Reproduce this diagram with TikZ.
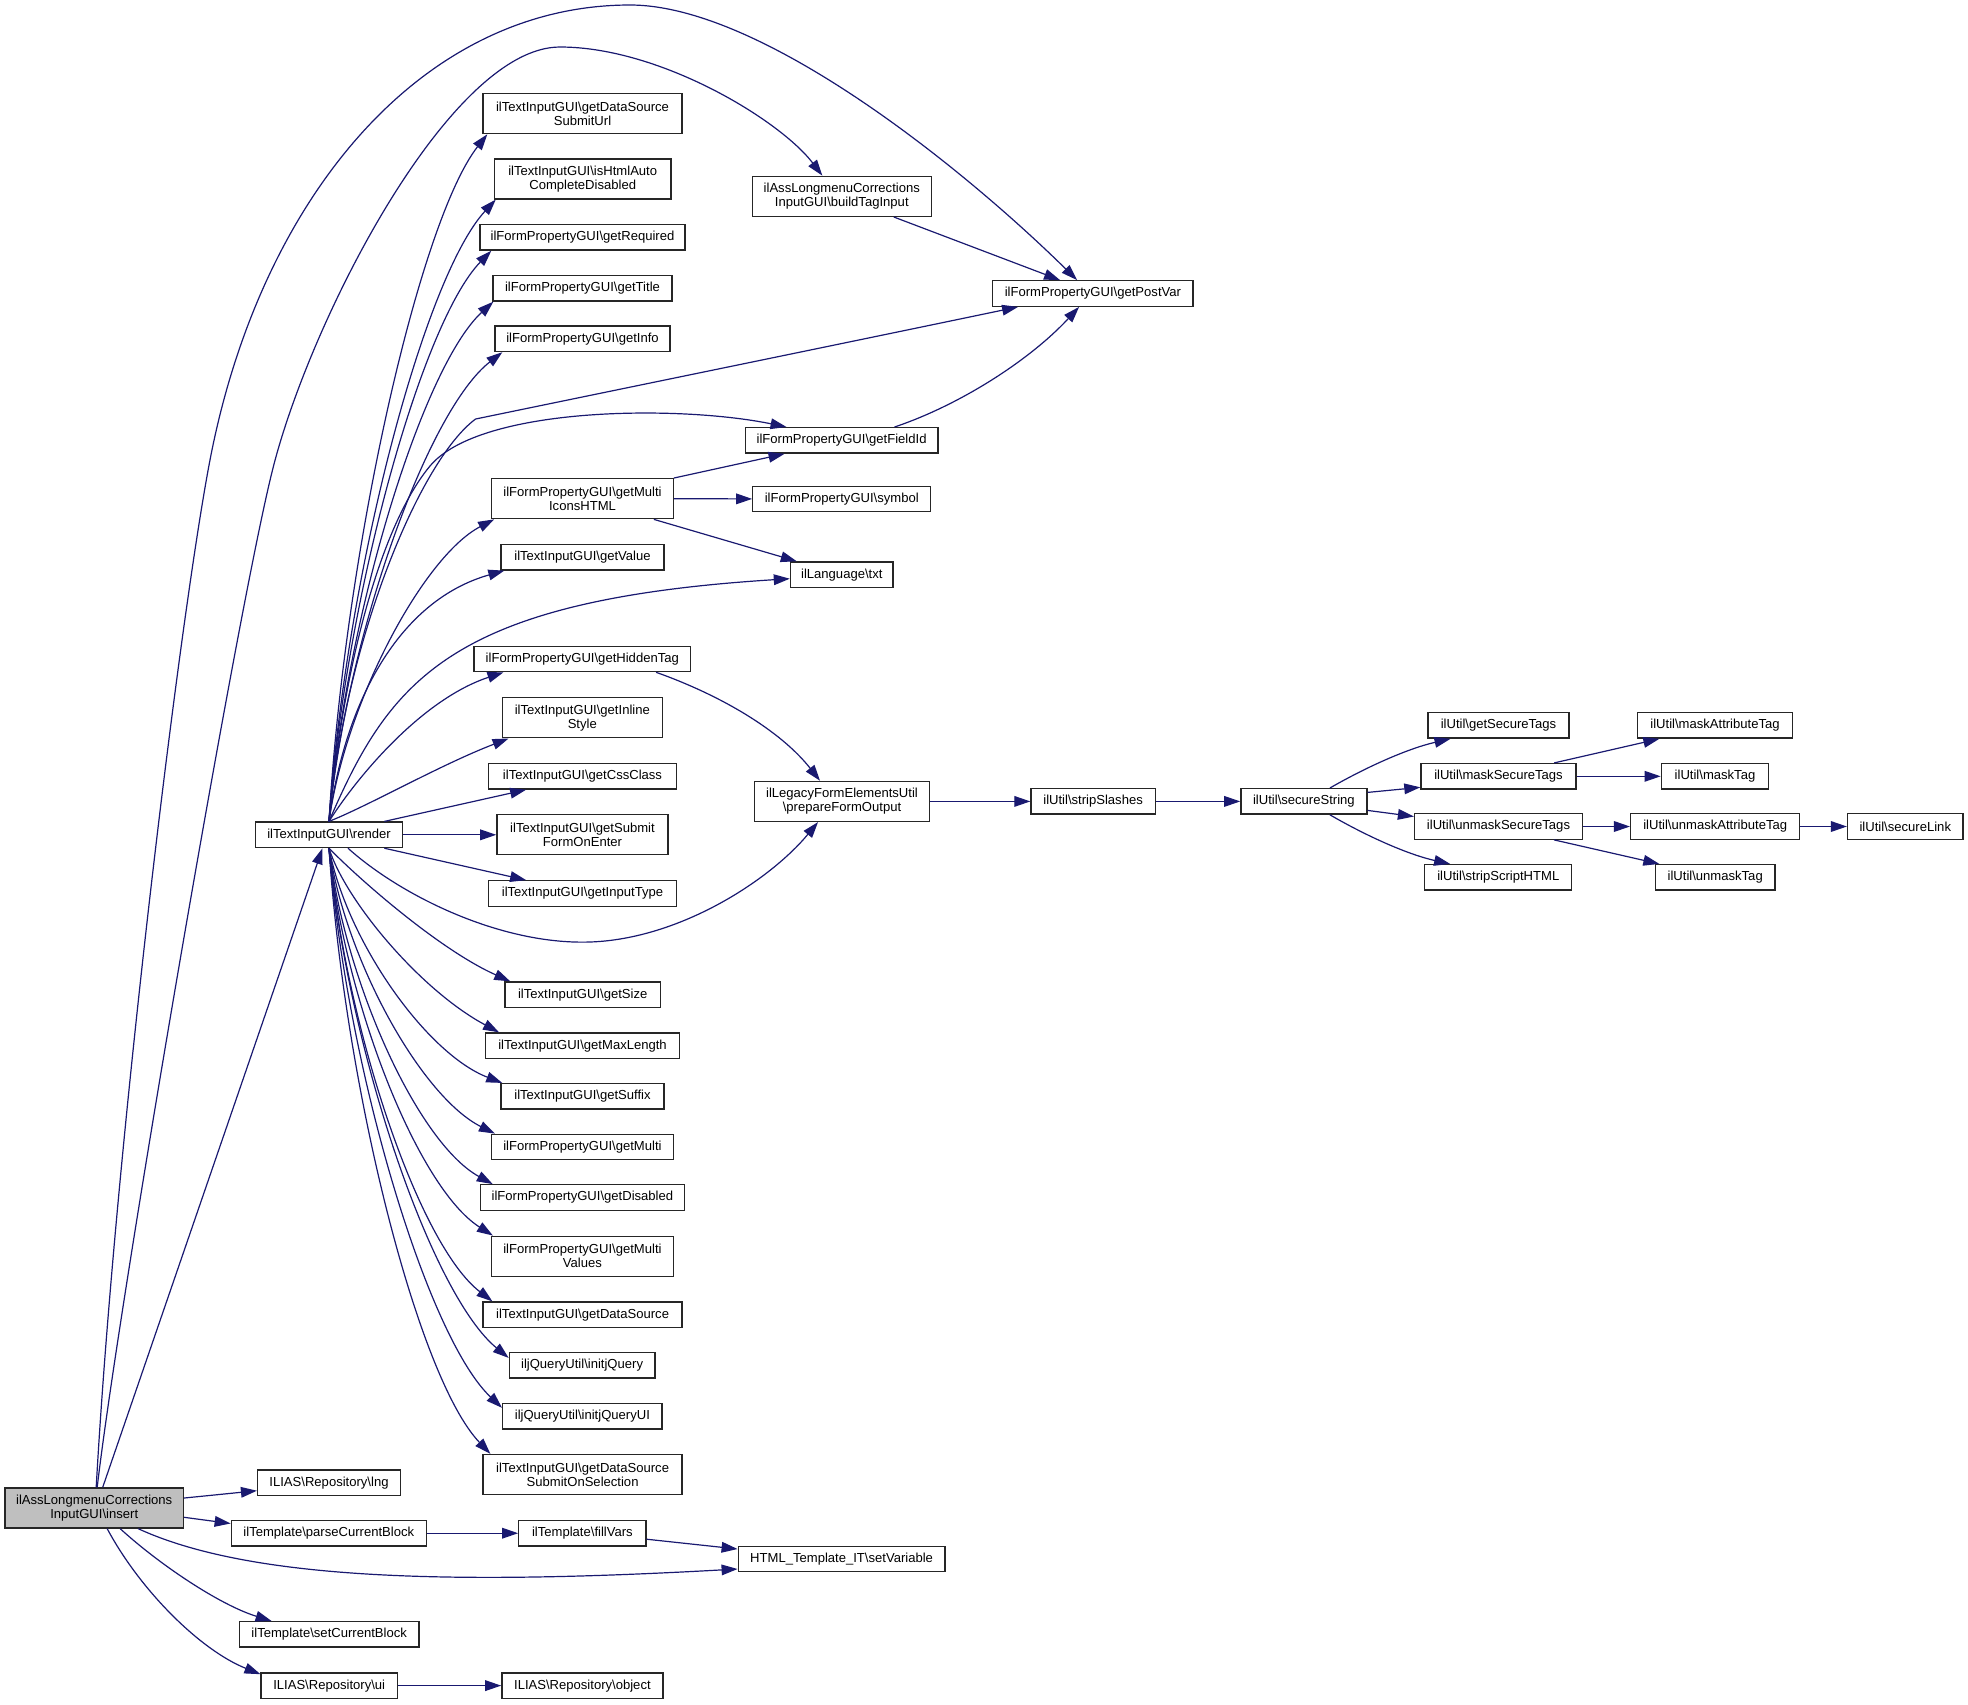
\documentclass[tikz,border=0pt]{standalone}
\usepackage{fontspec}
\setmainfont{Liberation Sans}
\usetikzlibrary{arrows.meta,calc}
\definecolor{edgec}{HTML}{191970}
\definecolor{insfill}{HTML}{BFBFBF}
\newcommand{\BS}{\textbackslash}
\begin{document}
\begin{tikzpicture}[x=0.75pt,y=-0.75pt,
  nb/.style={draw=black!85, line width=1pt, fill=white, rectangle, inner xsep=2pt, inner ysep=1pt, align=center, font=\fontsize{9.8pt}{10.4pt}\selectfont, minimum height=19.1pt},
  two/.style={minimum height=30pt},
  bw/.style={minimum width=#1*0.75pt},
  ed/.style={draw=edgec, line width=0.9pt, -{Triangle[length=12pt,width=8pt]}}
]
\useasboundingbox (0,0) rectangle (1968,1704);

% nodes
\node[nb,bw=178.6,two,fill=insfill] (ins) at (94.2,1508) {ilAssLongmenuCorrections\\InputGUI\BS insert};
\node[nb,bw=147.3] (render) at (329,834.8) {ilTextInputGUI\BS render};
\node[nb,bw=199,two] (surl) at (582.5,113.6) {ilTextInputGUI\BS getDataSource\\SubmitUrl};
\node[nb,bw=176.5,two] (html) at (582.7,178.9) {ilTextInputGUI\BS isHtmlAuto\\CompleteDisabled};
\node[nb,bw=205] (req) at (582.5,237.3) {ilFormPropertyGUI\BS getRequired};
\node[nb,bw=179] (title) at (582.5,288.3) {ilFormPropertyGUI\BS getTitle};
\node[nb,bw=175] (info) at (582.5,338.8) {ilFormPropertyGUI\BS getInfo};
\node[nb,bw=181.4,two] (micons) at (582.5,498.7) {ilFormPropertyGUI\BS getMulti\\IconsHTML};
\node[nb,bw=163] (value) at (582.5,557.2) {ilTextInputGUI\BS getValue};
\node[nb,bw=216.3] (hidden) at (582.3,658.9) {ilFormPropertyGUI\BS getHiddenTag};
\node[nb,bw=160.1,two] (inline) at (582.3,717.8) {ilTextInputGUI\BS getInline\\Style};
\node[nb,bw=187.4] (css) at (582.5,776.3) {ilTextInputGUI\BS getCssClass};
\node[nb,bw=171.2,two] (submit) at (582.5,834.8) {ilTextInputGUI\BS getSubmit\\FormOnEnter};
\node[nb,bw=187.4] (itype) at (582.5,893.5) {ilTextInputGUI\BS getInputType};
\node[nb,bw=155.6] (size) at (582.7,994.7) {ilTextInputGUI\BS getSize};
\node[nb,bw=193.6] (maxlen) at (582.5,1045.7) {ilTextInputGUI\BS getMaxLength};
\node[nb,bw=163.2] (suffix) at (582.5,1096.3) {ilTextInputGUI\BS getSuffix};
\node[nb,bw=181.7] (multi) at (582.4,1147) {ilFormPropertyGUI\BS getMulti};
\node[nb,bw=204] (disabled) at (582.4,1197.5) {ilFormPropertyGUI\BS getDisabled};
\node[nb,bw=181.7,two] (mvalues) at (582.4,1256.2) {ilFormPropertyGUI\BS getMulti\\Values};
\node[nb,bw=199.1] (dsrc) at (582.6,1314.7) {ilTextInputGUI\BS getDataSource};
\node[nb,bw=145.5] (jq) at (582.1,1365.3) {iljQueryUtil\BS initjQuery};
\node[nb,bw=159.4] (jqui) at (582.4,1416.2) {iljQueryUtil\BS initjQueryUI};
\node[nb,bw=199.1,two] (sosel) at (582.6,1474.5) {ilTextInputGUI\BS getDataSource\\SubmitOnSelection};
\node[nb,bw=142.8] (lng) at (329,1482.7) {ILIAS\BS Repository\BS lng};
\node[nb,bw=195] (pcb) at (328.8,1533.2) {ilTemplate\BS parseCurrentBlock};
\node[nb,bw=179.9] (scb) at (329.2,1634.4) {ilTemplate\BS setCurrentBlock};
\node[nb,bw=136.1] (ui) at (329.2,1685.6) {ILIAS\BS Repository\BS ui};
\node[nb,bw=127.2] (fillv) at (582.4,1533.2) {ilTemplate\BS fillVars};
\node[nb,bw=161.1] (object) at (582.4,1685.6) {ILIAS\BS Repository\BS object};
\node[nb,bw=206.7] (setvar) at (841.6,1559) {HTML\_Template\_IT\BS setVariable};
\node[nb,bw=178.8,two] (btag) at (841.8,196.3) {ilAssLongmenuCorrections\\InputGUI\BS buildTagInput};
\node[nb,bw=200.3] (postvar) at (1092.9,293.5) {ilFormPropertyGUI\BS getPostVar};
\node[nb,bw=192.8] (fieldid) at (841.6,440.4) {ilFormPropertyGUI\BS getFieldId};
\node[nb,bw=178] (symbol) at (841.8,498.9) {ilFormPropertyGUI\BS symbol};
\node[nb,bw=102.7] (txt) at (841.8,574.7) {ilLanguage\BS txt};
\node[nb,bw=174.6,two] (pfo) at (842,801.4) {ilLegacyFormElementsUtil\\\BS prepareFormOutput};
\node[nb,bw=124.2] (strip) at (1093.1,801.4) {ilUtil\BS stripSlashes};
\node[nb,bw=126] (secstr) at (1303.9,801.4) {ilUtil\BS secureString};
\node[nb,bw=140.7] (gst) at (1498.5,725.4) {ilUtil\BS getSecureTags};
\node[nb,bw=155.1] (mst) at (1498.5,776.3) {ilUtil\BS maskSecureTags};
\node[nb,bw=167.9] (ust) at (1498.5,826.5) {ilUtil\BS unmaskSecureTags};
\node[nb,bw=147] (ssh) at (1498.3,877.3) {ilUtil\BS stripScriptHTML};
\node[nb,bw=155] (mat) at (1715,725.4) {ilUtil\BS maskAttributeTag};
\node[nb,bw=107.4] (mtag) at (1715,776.3) {ilUtil\BS maskTag};
\node[nb,bw=169.2] (uat) at (1715.2,826.5) {ilUtil\BS unmaskAttributeTag};
\node[nb,bw=119.8] (utag) at (1715.2,877.3) {ilUtil\BS unmaskTag};
\node[nb,bw=115.5] (slink) at (1905.3,826.5) {ilUtil\BS secureLink};

% edges from insert
\draw[ed] ($(ins.north)+(2,0)$) .. controls (115,1150) and (180,616) .. (210,460) .. controls (260,200) and (420,5) .. (630,5) .. controls (760,5) and (960,165) .. ($(postvar.north west)+(85,0)$);
\draw[ed] ($(ins.north)+(3,0)$) .. controls (118,1308) and (236.8,612.6) .. (272.5,470) .. controls (310,320) and (450,47) .. (560,47) .. controls (660,47) and (780,120) .. ($(btag.north west)+(70.6,0)$);
\draw[ed] ($(ins.north)+(8.5,0)$) -- ($(render.south)+(-6.5,0)$);
\draw[ed] ($(ins.east)+(0,-10)$) -- ($(lng.west)+(0,8)$);
\draw[ed] ($(ins.east)+(0,9.3)$) -- ($(pcb.west)+(0,-9.7)$);
\draw[ed] ($(ins.south)+(44,0)$) .. controls (250,1580) and (450,1585) .. ($(setvar.west)+(0,10)$);
\draw[ed] ($(ins.south)+(26,0)$) .. controls (160,1565) and (220,1605) .. ($(scb.north west)+(33,0)$);
\draw[ed] ($(ins.south)+(13,0)$) .. controls (140,1590) and (200,1650) .. ($(ui.north west)+(0,2)$);
\draw[ed] (pcb.east) -- (fillv.west);
\draw[ed] ($(fillv.east)+(0,6)$) -- ($(setvar.west)+(0,-10)$);
\draw[ed] (ui.east) -- (object.west);

% render fan upward
\draw[ed] (render.north) .. controls (345,547) and (420,220) .. ($(surl.south west)+(5,0)$);
\draw[ed] (render.north) .. controls (346,573) and (424,277) .. ($(html.south west)+(2,0)$);
\draw[ed] (render.north) .. controls (346,594) and (422,322) .. ($(req.south west)+(12,0)$);
\draw[ed] (render.north) .. controls (346,614) and (423,366) .. ($(title.south west)+(1,0)$);
\draw[ed] (render.north) .. controls (347,634) and (428,410) .. ($(info.south west)+(8,0)$);
\draw[ed] (render.north) .. controls (345,640) and (420,460) .. (475.6,419) .. controls (650,383) and (850,342) .. ($(postvar.south west)+(26,0)$);
\draw[ed] (render.north) .. controls (345,650) and (385,520) .. (430,466) .. controls (480,406) and (680,405) .. ($(fieldid.north west)+(42,0)$);
\draw[ed] (render.north) .. controls (346,700) and (424,556) .. ($(micons.south west)+(3,0)$);
\draw[ed] (render.north) .. controls (345,700) and (400,600) .. ($(value.south west)+(4,0)$);
\draw[ed] (render.north) .. controls (390,680) and (450,600) .. ($(txt.west)+(0,4)$);
\draw[ed] (render.north) .. controls (355,780) and (420,700) .. ($(hidden.south west)+(30,0)$);
\draw[ed] (render.north) .. controls (370,805) and (440,765) .. ($(inline.south west)+(7,0)$);
\draw[ed] ($(render.north east)+(-19,0)$) -- ($(css.south west)+(38,0)$);
\draw[ed] (render.east) -- (submit.west);
\draw[ed] ($(render.south east)+(-19,0)$) -- ($(itype.north west)+(38,0)$);
\draw[ed] ($(render.south)+(19,0)$) .. controls (400,895) and (500,945) .. (590,942) .. controls (680,939) and (770,880) .. ($(pfo.south west)+(64,0)$);

% render fan downward
\draw[ed] (render.south) .. controls (360,880) and (440,950) .. ($(size.north west)+(6,0)$);
\draw[ed] (render.south) .. controls (345,900) and (420,990) .. ($(maxlen.north west)+(14,0)$);
\draw[ed] (render.south) .. controls (347,942) and (427,1054) .. ($(suffix.north west)+(2,0)$);
\draw[ed] (render.south) .. controls (346,962) and (422,1097) .. ($(multi.north west)+(4,0)$);
\draw[ed] (render.south) .. controls (345,983) and (418,1143) .. ($(disabled.north west)+(13,0)$);
\draw[ed] (render.south) .. controls (345,1003) and (418,1188) .. ($(mvalues.north west)+(2,0)$);
\draw[ed] (render.south) .. controls (346,1030) and (419,1245) .. ($(dsrc.north west)+(10,0)$);
\draw[ed] (render.south) .. controls (348,1052) and (432,1295) .. ($(jq.north west)+(0,6)$);
\draw[ed] (render.south) .. controls (347,1072) and (428,1338) .. ($(jqui.north west)+(0,5)$);
\draw[ed] (render.south) .. controls (345,1090) and (418,1378) .. ($(sosel.north west)+(8,0)$);

% other edges
\draw[ed] ($(btag.south west)+(142,0)$) -- ($(postvar.north west)+(68,0)$);
\draw[ed] ($(fieldid.north west)+(150,0)$) .. controls (960,405) and (1030,360) .. ($(postvar.south west)+(87,0)$);
\draw[ed] (micons.north east) -- ($(fieldid.south west)+(40,0)$);
\draw[ed] (micons.east) -- (symbol.west);
\draw[ed] ($(micons.south east)+(-20,0)$) -- ($(txt.north west)+(7,0)$);
\draw[ed] ($(hidden.south east)+(-35,0)$) .. controls (720,695) and (780,730) .. ($(pfo.north west)+(66,0)$);
\draw[ed] (pfo.east) -- (strip.west);
\draw[ed] (strip.east) -- (secstr.west);
\draw[ed] ($(secstr.north)+(26,0)$) .. controls (1370,765) and (1410,748) .. ($(gst.south west)+(23,0)$);
\draw[ed] ($(secstr.east)+(0,-9)$) -- ($(mst.west)+(0,11)$);
\draw[ed] ($(secstr.east)+(0,9)$) -- ($(ust.west)+(0,-10)$);
\draw[ed] ($(secstr.south)+(26,0)$) .. controls (1370,838) and (1410,855) .. ($(ssh.north west)+(26,0)$);
\draw[ed] ($(mst.north east)+(-22.6,0)$) -- ($(mat.south west)+(22.5,0)$);
\draw[ed] (mst.east) -- (mtag.west);
\draw[ed] (ust.east) -- (uat.west);
\draw[ed] ($(ust.south east)+(-29,0)$) -- ($(utag.north west)+(4.7,0)$);
\draw[ed] (uat.east) -- (slink.west);
\end{tikzpicture}
\end{document}
